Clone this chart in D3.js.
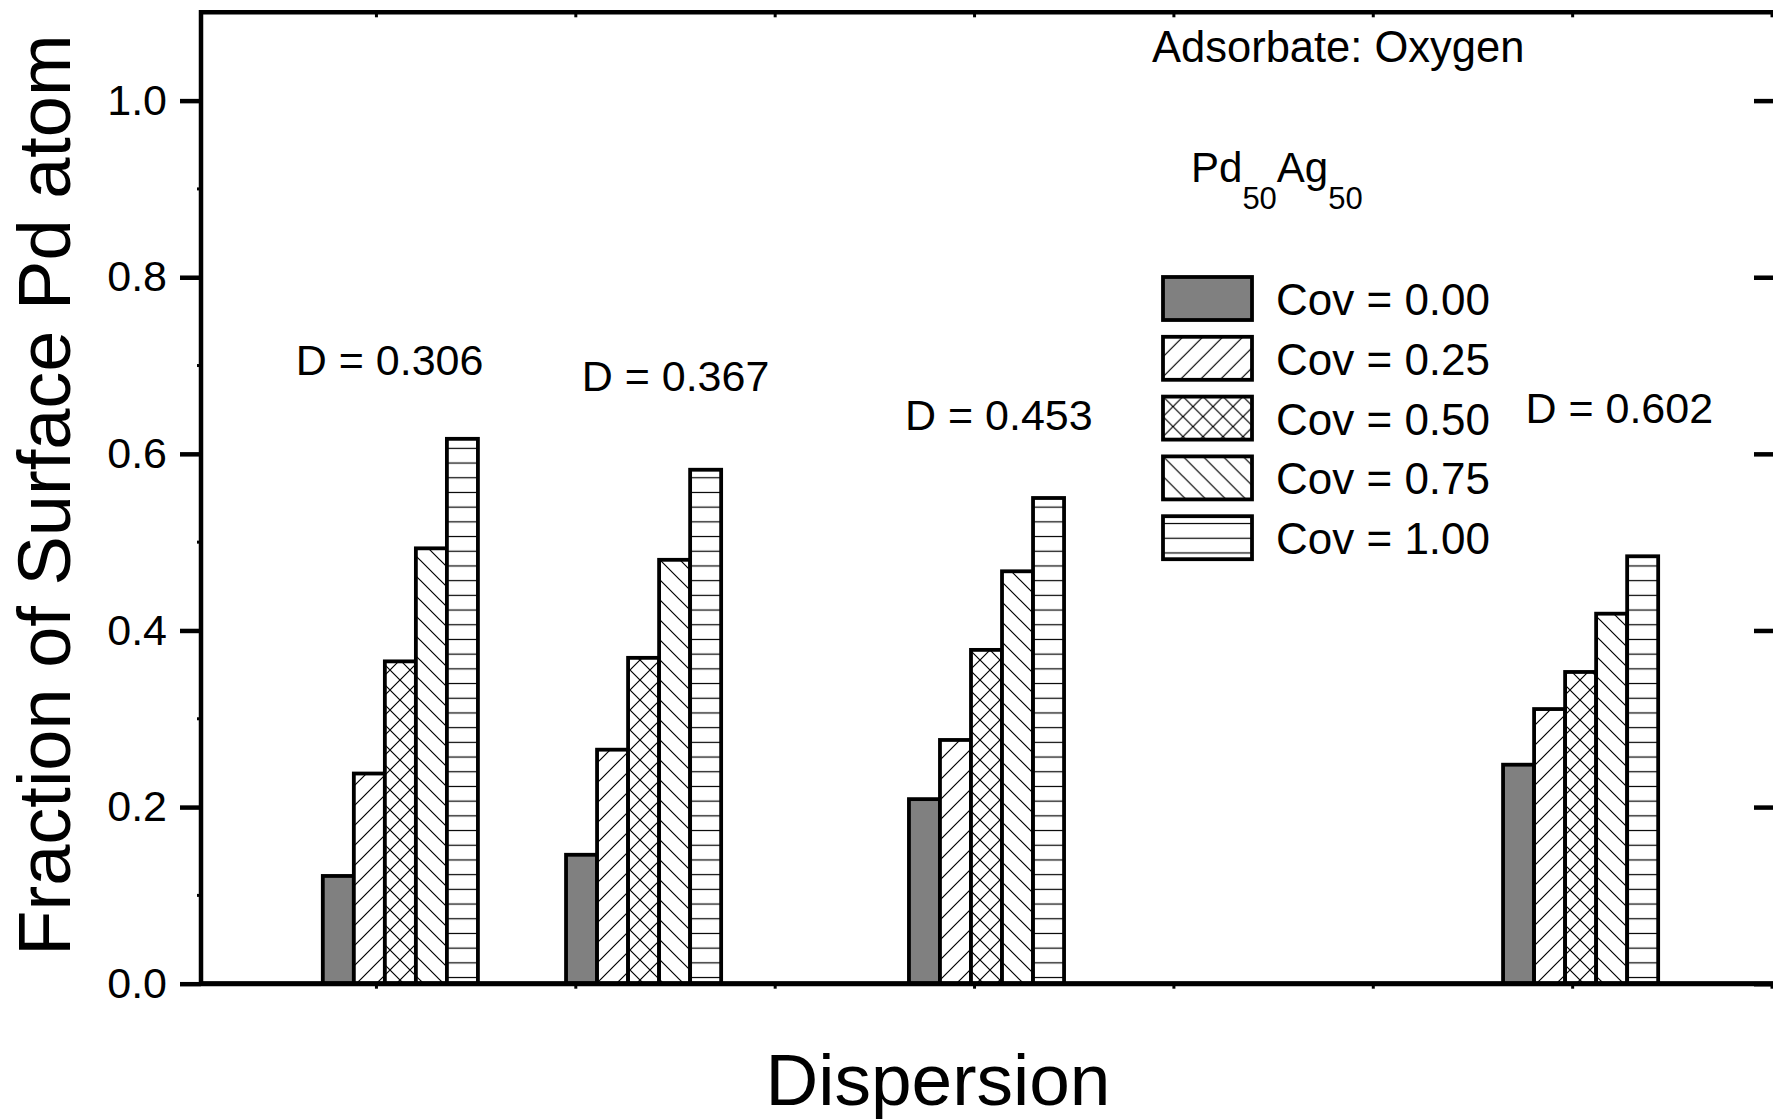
<!DOCTYPE html>
<html>
<head>
<meta charset="utf-8">
<script src="https://cdn.jsdelivr.net/npm/d3@7"></script>
<style>
  html, body { margin: 0; padding: 0; background: #fff; }
  svg { display: block; font-family: "Liberation Sans", Arial, Helvetica, sans-serif; }
</style>
</head>
<body>
<svg id="chart" width="1773" height="1119"></svg>
<script>
// Pd50Ag50 clusters with adsorbed oxygen: fraction of surface Pd atoms per dispersion
const dispersion = [0.306, 0.367, 0.453, 0.602];
const coverageLabels = ["0.00", "0.25", "0.50", "0.75", "1.00"];
const fracCov000 = [0.122, 0.146, 0.209, 0.248];
const fracCov025 = [0.238, 0.265, 0.276, 0.311];
const fracCov050 = [0.365, 0.369, 0.378, 0.353];
const fracCov075 = [0.493, 0.480, 0.467, 0.419];
const fracCov100 = [0.617, 0.582, 0.550, 0.484];
const yTickValues = [0.0, 0.2, 0.4, 0.6, 0.8, 1.0];
const yMinorValues = [0.1, 0.3, 0.5, 0.7, 0.9];
const xTickValues = [0.30, 0.35, 0.40, 0.45, 0.50, 0.55, 0.60, 0.65];

(function () {
  const series = [fracCov000, fracCov025, fracCov050, fracCov075, fracCov100];
  const fills = ["#808080", "url(#hatchFwd)", "url(#hatchCross)", "url(#hatchBack)", "url(#hatchHoriz)"];

  const svg = d3.select("#chart");
  const W = 1773, H = 1119;
  svg.append("rect").attr("width", W).attr("height", H).attr("fill", "#fff");

  // plot frame (right edge runs just past the canvas)
  const pLeft = 201, pRight = 1776, pTop = 12.3, pBottom = 983.7;
  const x = d3.scaleLinear().domain([0.256, 0.651]).range([pLeft, pRight]);
  const y = d3.scaleLinear().domain([0, 1.1]).range([pBottom, pTop]);
  const barStep = 0.00778; // bar width in dispersion units

  // hatch patterns
  const defs = svg.append("defs");
  function pattern(id, w, h, d) {
    const p = defs.append("pattern")
      .attr("id", id).attr("patternUnits", "userSpaceOnUse")
      .attr("width", w).attr("height", h);
    p.append("rect").attr("width", w).attr("height", h).attr("fill", "#fff");
    p.append("path").attr("d", d).attr("stroke", "#000").attr("stroke-width", 1.2).attr("fill", "none");
  }
  const fwd = "M-5,5L5,-5M0,20L20,0M15,25L25,15";
  const back = "M-5,15L5,25M0,0L20,20M15,-5L25,5";
  pattern("hatchFwd", 20, 20, fwd);
  pattern("hatchBack", 20, 20, back);
  pattern("hatchCross", 20, 20, fwd + back);
  pattern("hatchHoriz", 10, 14.7, "M-1,7.35L11,7.35");

  // bars
  const bars = [];
  dispersion.forEach((d, g) => {
    series.forEach((s, i) => bars.push({ d, i, v: s[g] }));
  });
  svg.append("g").selectAll("rect").data(bars).join("rect")
    .attr("x", b => x(b.d + (b.i - 2.5) * barStep))
    .attr("width", b => x(b.d + barStep) - x(b.d))
    .attr("y", b => y(b.v))
    .attr("height", b => y(0) - y(b.v))
    .attr("fill", b => fills[b.i])
    .attr("stroke", "#000")
    .attr("stroke-width", 3.8);

  // axes
  const axisW = 4.5;
  const yLeft = svg.append("g").attr("transform", `translate(${pLeft},0)`)
    .call(d3.axisLeft(y).tickValues(yTickValues).tickFormat(d3.format(".1f")).tickSize(21).tickPadding(13));
  yLeft.select(".domain").remove();
  yLeft.selectAll("line").attr("stroke", "#000").attr("stroke-width", axisW);
  yLeft.selectAll("text").attr("font-size", 43).attr("fill", "#000")
    .attr("font-family", "'Liberation Sans', Arial, sans-serif");

  const yRight = svg.append("g").attr("transform", `translate(${pRight},0)`)
    .call(d3.axisLeft(y).tickValues(yTickValues).tickFormat(""));
  yRight.select(".domain").remove();
  yRight.selectAll(".tick line").attr("x1", -22).attr("x2", 0).attr("stroke", "#000").attr("stroke-width", axisW);

  // minor ticks
  svg.append("g").selectAll("line").data(yMinorValues).join("line")
    .attr("x1", pLeft - 4).attr("x2", pLeft).attr("y1", d => y(d)).attr("y2", d => y(d))
    .attr("stroke", "#000").attr("stroke-width", 3);
  svg.append("g").selectAll("line").data(xTickValues).join("line")
    .attr("x1", d => x(d)).attr("x2", d => x(d)).attr("y1", pBottom).attr("y2", pBottom + 5)
    .attr("stroke", "#000").attr("stroke-width", 3);
  svg.append("g").selectAll("line").data(xTickValues).join("line")
    .attr("x1", d => x(d)).attr("x2", d => x(d)).attr("y1", pTop).attr("y2", pTop + 5)
    .attr("stroke", "#000").attr("stroke-width", 3);

  // frame
  svg.append("path")
    .attr("d", `M${pLeft},${pBottom}V${pTop}H${pRight}V${pBottom}Z`)
    .attr("fill", "none").attr("stroke", "#000").attr("stroke-width", axisW);
  svg.append("line").attr("x1", pLeft).attr("x2", pRight).attr("y1", pBottom).attr("y2", pBottom)
    .attr("stroke", "#000").attr("stroke-width", 5);

  // axis titles
  svg.append("text")
    .attr("transform", `translate(70,495) rotate(-90)`)
    .attr("text-anchor", "middle").attr("font-size", 74).attr("fill", "#000")
    .text("Fraction of Surface Pd atom");
  svg.append("text")
    .attr("x", 938).attr("y", 1105)
    .attr("text-anchor", "middle").attr("font-size", 73).attr("fill", "#000")
    .text("Dispersion");

  // dispersion annotations, placed in data coordinates
  const labelSpots = [
    { x: 0.3033, v: 0.689 },
    { x: 0.3750, v: 0.671 },
    { x: 0.4561, v: 0.627 },
    { x: 0.6117, v: 0.635 }
  ];
  svg.append("g").selectAll("text").data(dispersion).join("text")
    .attr("x", (d, i) => x(labelSpots[i].x))
    .attr("y", (d, i) => y(labelSpots[i].v))
    .attr("text-anchor", "middle").attr("font-size", 43).attr("fill", "#000")
    .text(d => "D = " + d3.format(".3f")(d));

  // header texts
  svg.append("text").attr("x", 1152).attr("y", 62)
    .attr("font-size", 43.5).attr("fill", "#000").text("Adsorbate: Oxygen");

  const alloy = svg.append("text").attr("x", 1191).attr("y", 182).attr("font-size", 42).attr("fill", "#000");
  alloy.append("tspan").text("Pd");
  alloy.append("tspan").attr("dy", 27).attr("font-size", 31).text("50");
  alloy.append("tspan").attr("dy", -27).text("Ag");
  alloy.append("tspan").attr("dy", 27).attr("font-size", 31).text("50");

  // legend
  const rows = svg.append("g").selectAll("g").data(coverageLabels).join("g")
    .attr("transform", (d, i) => `translate(1163,${277 + i * 59.8})`);
  rows.append("rect")
    .attr("width", 89).attr("height", 43)
    .attr("fill", (d, i) => fills[i])
    .attr("stroke", "#000").attr("stroke-width", 3.8);
  rows.append("text")
    .attr("x", 113).attr("y", 38)
    .attr("font-size", 44).attr("fill", "#000")
    .text(d => "Cov = " + d);
})();
</script>
</body>
</html>
